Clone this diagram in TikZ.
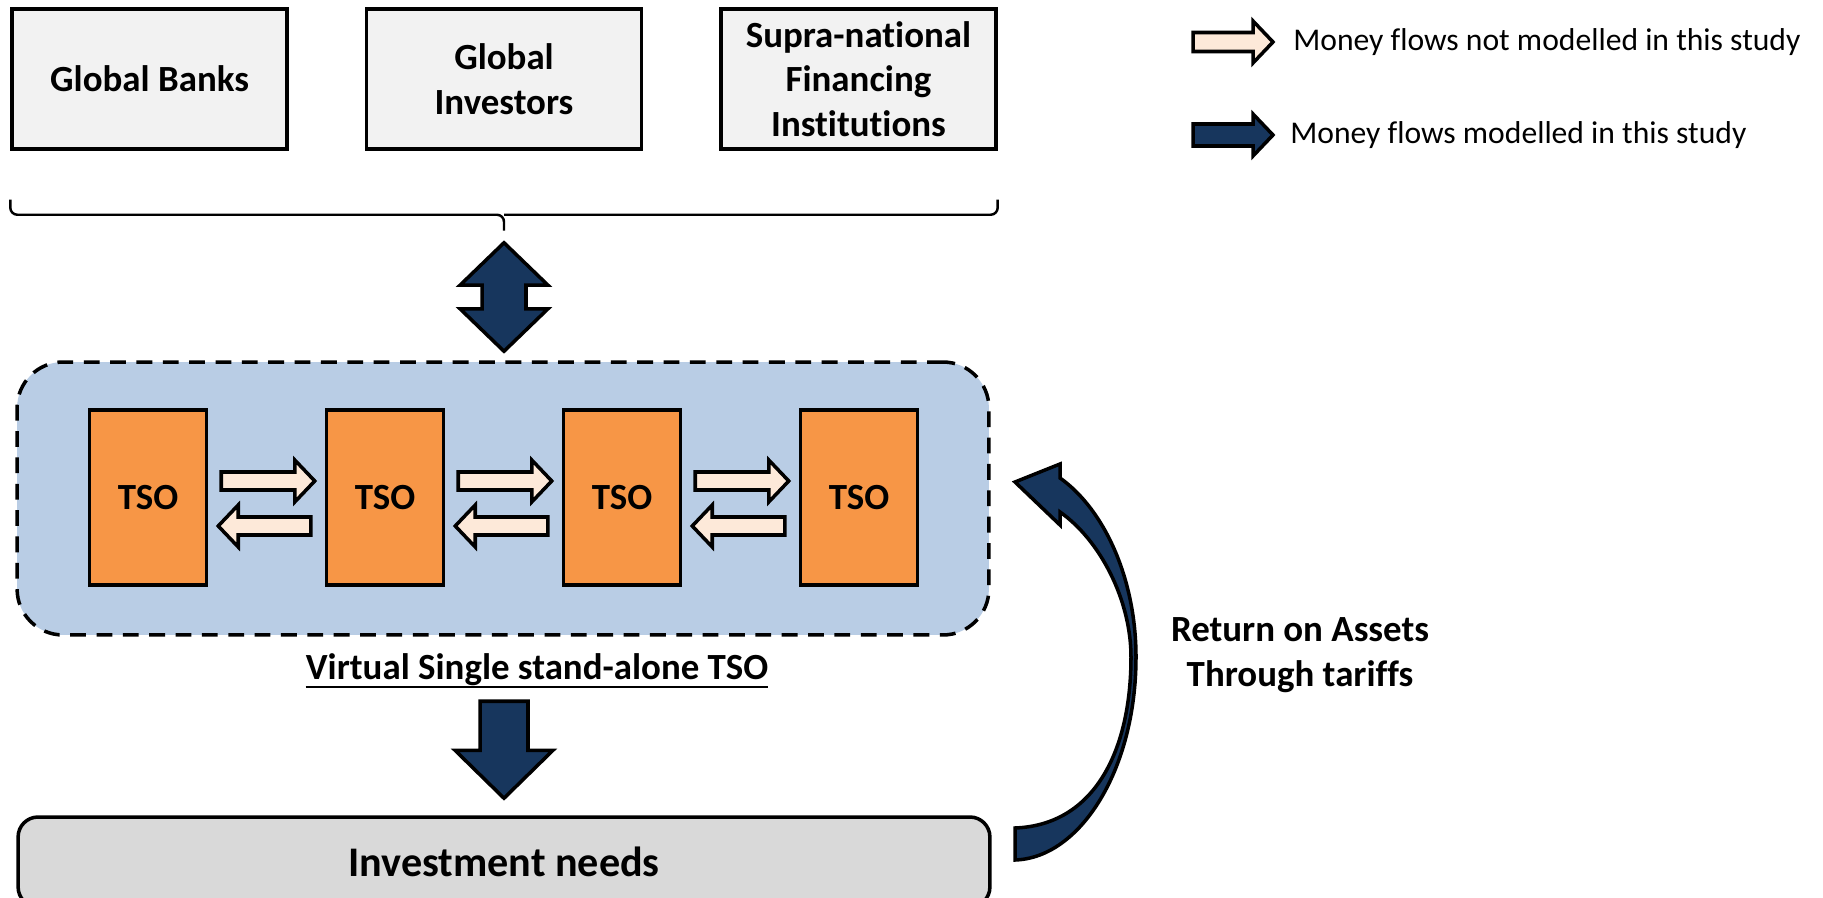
\documentclass[tikz,border=0pt]{standalone}
\usepackage{fontspec}
\setmainfont[Ligatures=NoCommon]{Carlito}
\usetikzlibrary{positioning,calc}

\definecolor{navy}{RGB}{23,54,93}
\definecolor{peach}{RGB}{253,233,217}
\definecolor{tsoorange}{RGB}{247,150,70}
\definecolor{poolblue}{RGB}{185,205,229}
\definecolor{boxgrey}{RGB}{242,242,242}
\definecolor{needgrey}{RGB}{217,217,217}

\tikzset{
	source/.style={draw, line width=2pt, fill=boxgrey, minimum width=5.5cm, minimum height=2.8cm, align=center, font=\bfseries\fontsize{21}{25.5}\selectfont},
	pool/.style={draw, line width=2pt, dash pattern=on 9pt off 6pt, fill=poolblue, rounded corners=0.92cm, minimum width=19.44cm, minimum height=5.46cm},
	tsobox/.style={draw, line width=2pt, fill=tsoorange, minimum width=2.34cm, minimum height=3.5cm, font=\bfseries\fontsize{21}{25}\selectfont},
	needbox/.style={draw, line width=2pt, fill=needgrey, rounded corners=0.4cm, minimum width=19.44cm, minimum height=1.8cm, font=\bfseries\fontsize{24}{28}\selectfont},
	brace/.style={line width=1.4pt, rounded corners=4pt},
	flow/.style={draw=black, line width=2pt, line join=miter},
	notmodelled/.style={flow, fill=peach},
	modelled/.style={flow, fill=navy},
	legend/.style={inner sep=0pt, font=\fontsize{18}{22}\selectfont},
}

% block arrow: [style]{tail}{tip}{half body}{half head}{head length}
\newcommand{\moneyflow}[6][]{%
	\coordinate (mf-a) at #2;
	\coordinate (mf-b) at #3;
	\coordinate (mf-h) at ($(mf-b)!#6!(mf-a)$);
	\draw[#1] ($(mf-a)!#4!90:(mf-b)$) -- ($(mf-h)!#4!90:(mf-b)$) -- ($(mf-h)!#5!90:(mf-b)$) -- (mf-b)
		-- ($(mf-h)!#5!-90:(mf-b)$) -- ($(mf-h)!#4!-90:(mf-b)$) -- ($(mf-a)!#4!-90:(mf-b)$) -- cycle;
}
% same with a head at both ends
\newcommand{\moneyflowboth}[6][]{%
	\coordinate (mf-a) at #2;
	\coordinate (mf-b) at #3;
	\coordinate (mf-ha) at ($(mf-a)!#6!(mf-b)$);
	\coordinate (mf-hb) at ($(mf-b)!#6!(mf-a)$);
	\draw[#1] (mf-a) -- ($(mf-ha)!#5!90:(mf-b)$) -- ($(mf-ha)!#4!90:(mf-b)$) -- ($(mf-hb)!#4!-90:(mf-a)$) -- ($(mf-hb)!#5!-90:(mf-a)$)
		-- (mf-b) -- ($(mf-hb)!#5!90:(mf-a)$) -- ($(mf-hb)!#4!90:(mf-a)$) -- ($(mf-ha)!#4!-90:(mf-b)$) -- ($(mf-ha)!#5!-90:(mf-b)$) -- cycle;
}

\begin{document}
\begin{tikzpicture}[x=0.02cm, y=-0.02cm]
	\useasboundingbox (0,0) rectangle (1823,898);
	\clip (0,0) rectangle (1823,898);

	% lenders
	\node[source] (investors) at (504,79) {Global\\Investors};
	\node[source, left=1.52cm of investors] (banks) {Global Banks};
	\node[source, right=1.52cm of investors] (supra) {Supra-national\\Financing\\Institutions};

	\coordinate (bl) at ($(banks.south west)+(0,49)$);
	\coordinate (br) at ($(supra.south east)+(0,49)$);
	\coordinate (fin) at ($(bl)!.5!(br)+(0,31)$);
	\draw[brace] (bl) |- ($(fin)+(0,-16)$) -- (fin);
	\draw[brace] (br) |- ($(fin)+(0,-16)$);

	% TSOs
	\node[pool] (vtso) at (503,498.5) {};
	\foreach \i in {1,...,4}
		\node[tsobox] (tso\i) at ({148+237*(\i-1)},497.5) {TSO};
	\foreach \i/\j in {1/2,2/3,3/4} {
		\moneyflow[notmodelled]{($(tso\i.east)+(13,-16.5)$)}{($(tso\j.west)+(-10,-16.5)$)}{0.18cm}{0.42cm}{0.4cm}
		\moneyflow[notmodelled]{($(tso\j.west)+(-14,28.5)$)}{($(tso\i.east)+(10,28.5)$)}{0.18cm}{0.42cm}{0.4cm}
	}
	\node[anchor=base, inner sep=0pt, font=\bfseries\fontsize{21}{25}\selectfont] (vlabel) at ($(vtso.south)+(34,43)$) {Virtual Single stand-alone TSO};
	\draw[line width=1.2pt] ($(vlabel.base west)+(0,7)$) -- ($(vlabel.base east)+(0,7)$);

	\coordinate (fout) at (fin |- vtso.north);
	\moneyflowboth[modelled]{($(fin)+(0,12)$)}{($(fout)+(0,-9)$)}{0.44cm}{0.88cm}{0.85cm}

	% investment
	\node[needbox] (needs) at (504,862) {Investment needs};
	\moneyflow[modelled]{($(needs.north)+(0,-114)$)}{($(needs.north)+(0,-17)$)}{0.48cm}{0.98cm}{0.96cm}

	% return through tariffs
	\draw[modelled] (1015,860) .. controls (1080,858) and (1136,770) .. (1136,657)
		.. controls (1136,580) and (1105,510) .. (1060,478) -- (1060,464) -- (1015,482) -- (1060,525) -- (1060,512)
		.. controls (1100,540) and (1131,600) .. (1131,657)
		.. controls (1131,750) and (1095,825) .. (1015,828) -- cycle;
	\node[align=center, font=\bfseries\fontsize{21}{25.5}\selectfont] (ret) at (1300,655) {Return on Assets\\Through tariffs};

	% legend
	\node[legend, anchor=west] (lnot) at (1293,42) {Money flows not modelled in this study};
	\node[legend, anchor=west] (lmod) at (1290,135) {Money flows modelled in this study};
	\moneyflow[notmodelled]{($(lnot.west)+(-100,0)$)}{($(lnot.west)+(-20,0)$)}{0.19cm}{0.42cm}{0.4cm}
	\moneyflow[modelled]{($(lmod.west)+(-97,0)$)}{($(lmod.west)+(-17,0)$)}{0.22cm}{0.42cm}{0.4cm}
\end{tikzpicture}
\end{document}
